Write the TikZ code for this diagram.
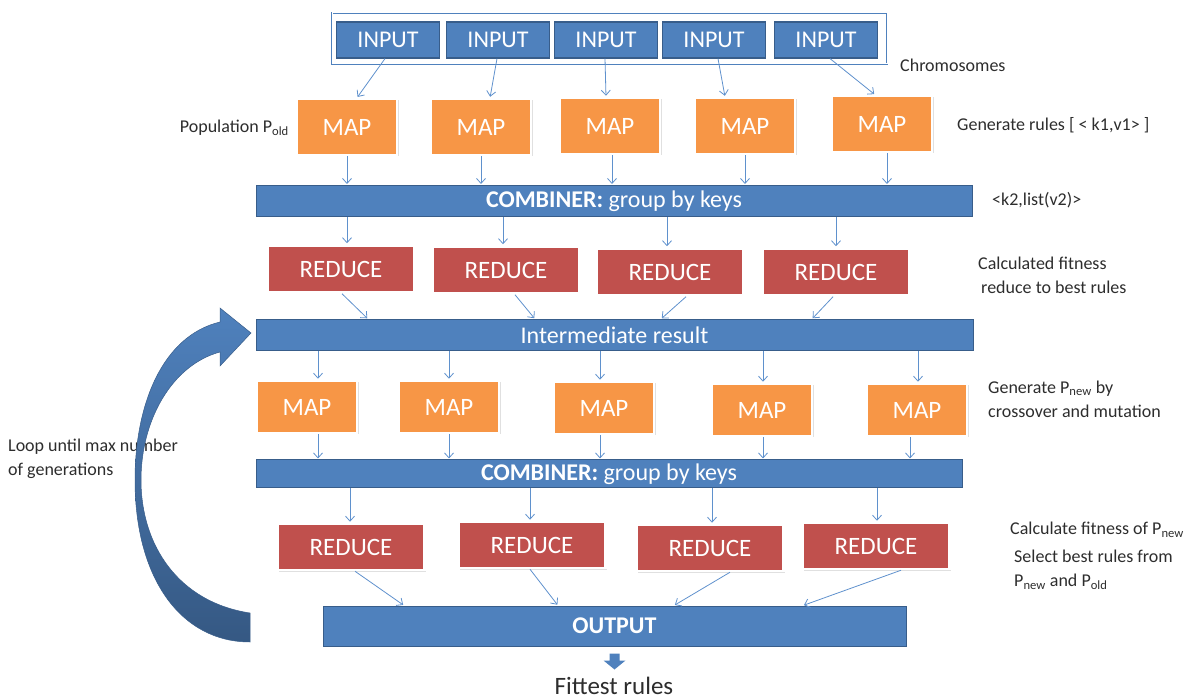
\documentclass[tikz,border=0pt]{standalone}
\usepackage{fontspec}
\setmainfont{Carlito}
\usetikzlibrary{arrows.meta,shadows,calc}
\definecolor{bfill}{RGB}{79,129,189}
\definecolor{bdraw}{RGB}{56,93,138}
\definecolor{ofill}{RGB}{247,150,70}
\definecolor{rfill}{RGB}{192,80,77}
\definecolor{cline}{RGB}{95,145,205}
\definecolor{ltext}{RGB}{45,45,45}
\begin{document}
\begin{tikzpicture}[x=1pt,y=-1pt,
  inbox/.style={draw=bdraw,line width=1.2pt,fill=bfill,text=white,minimum width=103pt,minimum height=36pt,inner sep=0pt,font=\fontsize{24}{26}\selectfont},
  mapbox/.style={draw=white,line width=2.5pt,fill=ofill,text=white,minimum width=100pt,minimum height=56pt,inner sep=0pt,font=\fontsize{25}{27}\selectfont,drop shadow={shadow xshift=1.5pt,shadow yshift=-1.5pt,opacity=0.2,fill=black!60}},
  redbox/.style={draw=white,line width=2.5pt,fill=rfill,text=white,minimum width=147pt,minimum height=47pt,inner sep=0pt,font=\fontsize{25}{27}\selectfont,drop shadow={shadow xshift=1.5pt,shadow yshift=-1.5pt,opacity=0.2,fill=black!60}},
  barbox/.style={draw=bdraw,line width=1pt,fill=bfill,text=white,inner sep=0pt,font=\fontsize{24}{26}\selectfont},
  conn/.style={draw=cline,line width=0.8pt,-{Straight Barb[length=5pt,width=9pt]},shorten >=1pt},
  lbl/.style={text=ltext,inner sep=0pt,anchor=west,align=left,font=\fontsize{18}{24}\selectfont}]
\useasboundingbox (0,0) rectangle (1192,700);

% input frame
\node (frame) [draw=bfill,line width=0.6pt,double=white,double distance=1pt,minimum width=555pt,minimum height=51pt,inner sep=0pt] at (609.5,38.5) {};
\node (in1) [inbox] at (388,40) {INPUT};
\node (in2) [inbox] at (498,40) {INPUT};
\node (in3) [inbox] at (606,40) {INPUT};
\node (in4) [inbox] at (714,40) {INPUT};
\node (in5) [inbox] at (826,40) {INPUT};

% map row 1
\node (m1) [mapbox] at (347,127) {MAP};
\node (m2) [mapbox] at (481,127) {MAP};
\node (m3) [mapbox] at (610,126) {MAP};
\node (m4) [mapbox] at (745,126) {MAP};
\node (m5) [mapbox] at (882,124) {MAP};

\node (comb1) [barbox,minimum width=716pt,minimum height=31pt] at (614,201) {\textbf{COMBINER:} group by keys};

% reduce row 1
\node (r1) [redbox] at (341,269) {REDUCE};
\node (r2) [redbox] at (506,270) {REDUCE};
\node (r3) [redbox] at (670,272) {REDUCE};
\node (r4) [redbox] at (836,272) {REDUCE};

\node (inter) [barbox,minimum width=717pt,minimum height=31pt] at (614.5,335) {Intermediate result};

% map row 2
\node (n1) [mapbox,minimum height=52pt] at (307,407) {MAP};
\node (n2) [mapbox,minimum height=52pt] at (449,407) {MAP};
\node (n3) [mapbox,minimum height=52pt] at (604,408) {MAP};
\node (n4) [mapbox,minimum height=52pt] at (762,410) {MAP};
\node (n5) [mapbox,minimum height=52pt] at (917,410) {MAP};

\node (comb2) [barbox,minimum width=706pt,minimum height=28pt] at (609,474) {\textbf{COMBINER:} group by keys};

% reduce row 2
\node (s1) [redbox,minimum height=46pt] at (351,547) {REDUCE};
\node (s2) [redbox,minimum height=46pt] at (532,545) {REDUCE};
\node (s3) [redbox,minimum height=46pt] at (710,548) {REDUCE};
\node (s4) [redbox,minimum height=46pt] at (876,546) {REDUCE};

\node (out) [barbox,minimum width=583pt,minimum height=40pt] at (614.5,626) {\textbf{OUTPUT}};
\node (fit) [text=ltext,inner sep=0pt,font=\fontsize{25}{27}\selectfont] at (614,686) {Fittest rules};

% labels
\node (lchrom) [lbl] at (900,65) {Chromosomes};
\node (lpop) [lbl,anchor=east] at (289,128) {Population P\textsubscript{old}};
\node (lgen) [lbl] at (957,125) {Generate rules [ < k1,v1> ]};
\node (lk2) [lbl] at (992,200) {<k2,list(v2)>};
\node (lcalc) [lbl] at (978,275) {Calculated fitness\\\hspace{3pt}reduce to best rules};
\node (lgnew) [lbl] at (988,399) {Generate P\textsubscript{new} by\\crossover and mutation};
\node (lloop) [lbl] at (8,459) {Loop until max number\\of generations};
\node (lcf) [lbl] at (1010,530) {Calculate fitness of P\textsubscript{new}};
\node (lsel) [lbl] at (1014,570) {Select best rules from\\P\textsubscript{new} and P\textsubscript{old}};

% connectors input -> map
\draw[conn] ([xshift=-3pt]in1.south) -- ([xshift=10pt]m1.north);
\draw[conn] ([xshift=-1pt]in2.south) -- ([xshift=9pt]m2.north);
\draw[conn] ([xshift=-1pt]in3.south) -- ([xshift=-4pt]m3.north);
\draw[conn] ([xshift=4pt]in4.south) -- ([xshift=-20pt]m4.north);
\draw[conn] ([xshift=4pt]in5.south) -- ([xshift=-7pt]m5.north);

% map -> combiner 1
\foreach \m/\dx in {m1/0,m2/0,m3/2,m4/0,m5/5}{
  \draw[conn] ([xshift=\dx pt]\m.south) -- ([xshift=\dx pt]\m.south |- comb1.north);
}
% combiner 1 -> reduce
\foreach \r/\dx in {r1/6,r2/-3,r3/-3,r4/0}{
  \draw[conn] ([xshift=\dx pt]\r.north |- comb1.south) -- ([xshift=\dx pt]\r.north);
}
% reduce -> intermediate
\draw[conn] ([xshift=1pt]r1.south) -- ([xshift=27pt]r1.south |- inter.north);
\draw[conn] ([xshift=9pt]r2.south) -- ([xshift=29pt]r2.south |- inter.north);
\draw[conn] ([xshift=16pt]r3.south) -- ([xshift=-9pt]r3.south |- inter.north);
\draw[conn] ([xshift=-3pt]r4.south) -- ([xshift=-24pt]r4.south |- inter.north);

% intermediate -> map row 2
\foreach \m/\dx in {n1/11,n2/0,n3/-4,n4/1,n5/1}{
  \draw[conn] ([xshift=\dx pt]\m.north |- inter.south) -- ([xshift=\dx pt]\m.north);
}
% map row 2 -> combiner 2
\foreach \m/\dx in {n1/11,n2/0,n3/-4,n4/1,n5/-7}{
  \draw[conn] ([xshift=\dx pt]\m.south) -- ([xshift=\dx pt]\m.south |- comb2.north);
}
% combiner 2 -> reduce row 2
\foreach \r/\dx in {s1/-1,s2/-2,s3/2,s4/1}{
  \draw[conn] ([xshift=\dx pt]\r.north |- comb2.south) -- ([xshift=\dx pt]\r.north);
}
% reduce row 2 -> output
\draw[conn] ([xshift=4pt]s1.south) -- ([xshift=53pt]s1.south |- out.north);
\draw[conn] ([xshift=-2pt]s2.south) -- ([xshift=26pt]s2.south |- out.north);
\draw[conn] ([xshift=20pt]s3.south) -- ([xshift=-36pt]s3.south |- out.north);
\draw[conn] ([xshift=25pt]s4.south) -- ([xshift=-73pt]s4.south |- out.north);

% block arrow output -> fittest rules
\fill[bfill] ($(out.south)+(-5,7)$) -- ($(out.south)+(5,7)$) -- ($(out.south)+(5,14)$)
  -- ($(out.south)+(11,14)$) -- ($(out.south)+(0,23)$) -- ($(out.south)+(-11,14)$)
  -- ($(out.south)+(-5,14)$) -- cycle;

% big loop arrow
\shadedraw[top color=bfill,bottom color=bdraw!95!black,draw=bdraw,line width=0.5pt]
  (250,613) .. controls (178,602) and (141,545) .. (141,480)
  .. controls (141,420) and (172,365) .. (220,352)
  -- (220,366) -- (251,333) -- (220,308) -- (220,322)
  .. controls (162,336) and (135,405) .. (135,480)
  .. controls (135,580) and (182,642) .. (250,642) -- cycle;
\end{tikzpicture}
\end{document}
